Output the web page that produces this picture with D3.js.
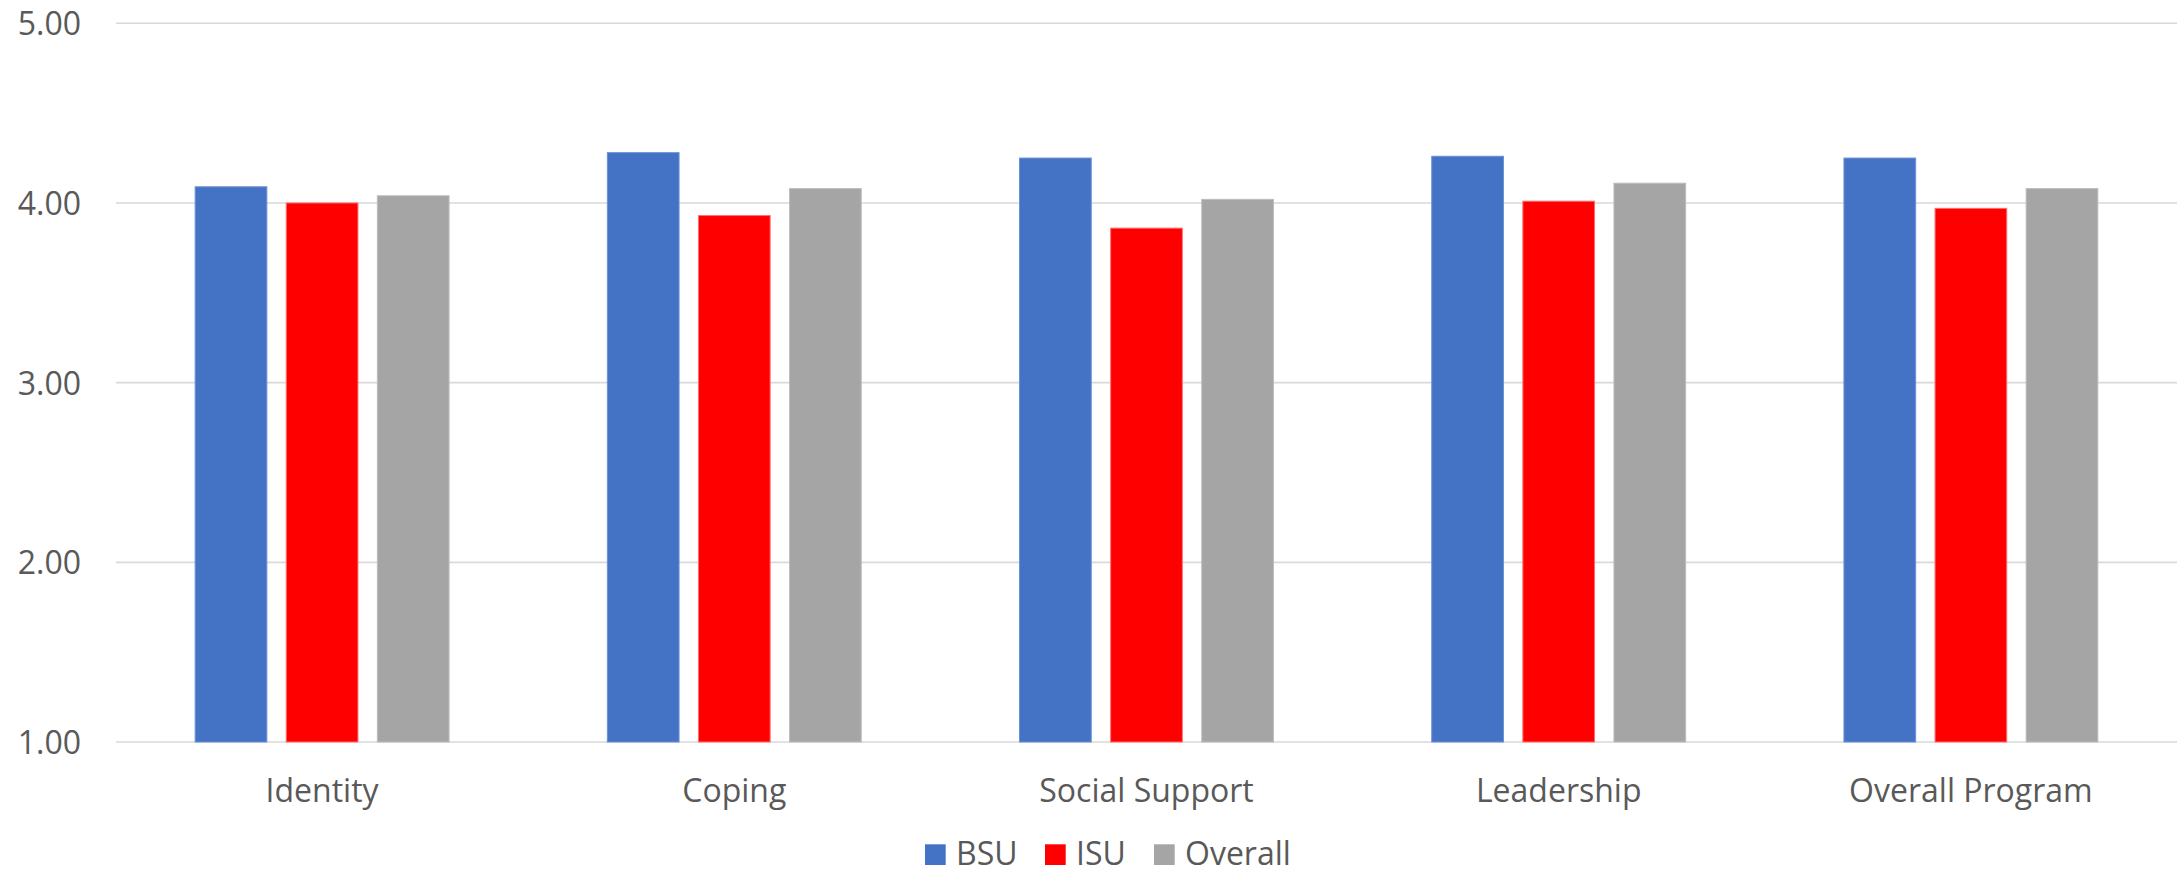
<!DOCTYPE html>
<html><head><meta charset="utf-8">
<script src="https://cdn.jsdelivr.net/npm/d3@7"></script>
<style>html,body{margin:0;padding:0;background:#fff;}svg{display:block;}</style>
</head><body><svg id="chart" width="2180" height="874"></svg>
<script>
const categories = ["Identity", "Coping", "Social Support", "Leadership", "Overall Program"];
const seriesNames = ["BSU", "ISU", "Overall"];
const bsu = [4.09, 4.28, 4.25, 4.26, 4.25];
const isu = [4.00, 3.93, 3.86, 4.01, 3.97];
const overall = [4.04, 4.08, 4.02, 4.11, 4.08];
const yTicks = [1, 2, 3, 4, 5];
const colors = ["#4472C4", "#FF0000", "#A5A5A5"];
const strokes = ["#6a90d6", "#ff6f6f", "#bcbcbc"];

(function () {
const series = [bsu, isu, overall];
const svg = d3.select("#chart");
const font = "'Open Sans', sans-serif";
const textColor = "#595959";
const fs = 32;

const mLeft = 116, mRight = 2177, mTop = 23.3, mBottom = 742;

const x = d3.scaleBand().domain(categories).range([mLeft, mRight]).paddingInner(0).paddingOuter(0);
const y = d3.scaleLinear().domain([1, 5]).range([mBottom, mTop]);
const barW = 71.7, barGap = 19.4;
const groupW = 3 * barW + 2 * barGap;
const xs = d3.scaleBand().domain(seriesNames).range([0, groupW]).paddingInner(barGap / (barW + barGap)).paddingOuter(0);

svg.append("g").selectAll("line").data(yTicks).join("line")
  .attr("x1", mLeft).attr("x2", mRight)
  .attr("y1", d => y(d)).attr("y2", d => y(d))
  .attr("stroke", "#d9d9d9").attr("stroke-width", 1.6);

const yAxis = d3.axisLeft(y).tickValues(yTicks).tickFormat(d3.format(".2f")).tickSize(0).tickPadding(0);
const ya = svg.append("g").attr("transform", `translate(81,0)`).call(yAxis);
ya.select(".domain").remove();
ya.selectAll("text").attr("font-family", font).attr("font-size", fs).attr("fill", textColor).attr("dy", "0.36em");

const g = svg.append("g");
series.forEach((vals, si) => {
  g.append("g").selectAll("rect").data(vals).join("rect")
    .attr("x", (d, i) => x(categories[i]) + (x.bandwidth() - groupW) / 2 + xs(seriesNames[si]))
    .attr("y", d => y(d))
    .attr("width", xs.bandwidth())
    .attr("height", d => y(1) - y(d))
    .attr("fill", colors[si])
    .attr("stroke", strokes[si]).attr("stroke-width", 1);
});

const xAxis = d3.axisBottom(x).tickSize(0).tickPadding(0);
const xa = svg.append("g").attr("transform", `translate(0,${mBottom})`).call(xAxis);
xa.select(".domain").remove();
xa.selectAll("text").attr("font-family", font).attr("font-size", fs).attr("fill", textColor).attr("dy", null).attr("y", 60);

const legendX = [925, 1045, 1154];
const legendBase = 865;
const lg = svg.append("g");
seriesNames.forEach((n, i) => {
  lg.append("rect").attr("x", legendX[i]).attr("y", legendBase - 20.7).attr("width", 20.7).attr("height", 20.7).attr("fill", colors[i]);
  lg.append("text").attr("x", legendX[i] + 31).attr("y", legendBase).text(n)
    .attr("font-family", font).attr("font-size", fs).attr("fill", textColor);
});
})();
</script></body></html>
